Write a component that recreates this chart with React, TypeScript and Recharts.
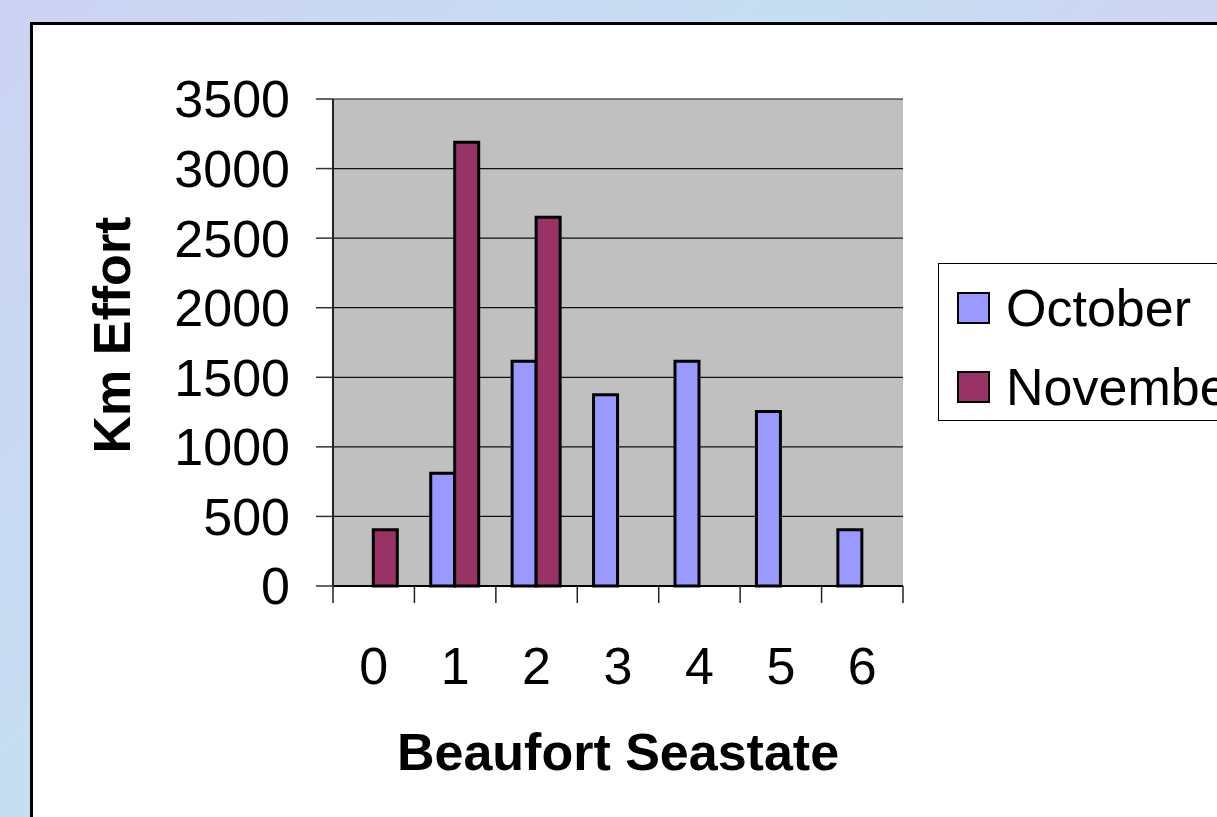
import { BarChart, Bar, XAxis, YAxis, CartesianGrid, Legend } from 'recharts';

const seastates = ['0', '1', '2', '3', '4', '5', '6'];
const october = [null, 810, 1615, 1375, 1615, 1255, 405];
const november = [405, 3190, 2650, null, null, null, null];
const yTicks = [0, 500, 1000, 1500, 2000, 2500, 3000, 3500];
const seriesOrder = ['October', 'November'];

const data = seastates.map((s, i) => ({ state: s, October: october[i], November: november[i] }));

const FONT = '"Liberation Sans", Arial, Helvetica, sans-serif';
const OCT = '#9999FF';
const NOV = '#993366';

function XTick(props: any) {
  const { x, y, payload, index } = props;
  const half = payload.offset ?? 0;
  return (
    <g>
      <line x1={x - half} x2={x - half} y1={y} y2={y + 17} stroke="#222" strokeWidth={1.5} />
      {index === seastates.length - 1 && (
        <line x1={x + half} x2={x + half} y1={y} y2={y + 17} stroke="#222" strokeWidth={1.5} />
      )}
      <text x={x} y={y + 61} dy="0.71em" textAnchor="middle" fontSize={52} fontFamily={FONT} fill="#000">
        {payload.value}
      </text>
    </g>
  );
}

function LegendBox(props: any) {
  const items = [...(props.payload || [])].sort(
    (a: any, b: any) => seriesOrder.indexOf(a.value) - seriesOrder.indexOf(b.value)
  );
  return (
    <div
      style={{
        width: 330,
        height: 158,
        border: '1.5px solid #000',
        background: '#fff',
        boxSizing: 'border-box',
        position: 'relative',
        fontFamily: FONT,
      }}
    >
      {items.map((it: any, i: number) => (
        <div
          key={it.value}
          style={{ position: 'absolute', left: 18, top: 20 + i * 79, height: 48, display: 'flex', alignItems: 'center' }}
        >
          <span
            style={{
              display: 'inline-block',
              width: 33,
              height: 32,
              background: it.color,
              border: '2.5px solid #000',
              boxSizing: 'border-box',
            }}
          />
          <span style={{ marginLeft: 16, fontSize: 52, lineHeight: '48px', color: '#000', whiteSpace: 'nowrap' }}>
            {it.value}
          </span>
        </div>
      ))}
    </div>
  );
}

export default function App() {
  return (
    <div
      style={{
        position: 'fixed',
        left: 0,
        top: 0,
        width: 1217,
        height: 817,
        overflow: 'hidden',
        background: 'linear-gradient(135deg, #cdd3f3 0%, #c6def2 40%, #d4d0f2 70%, #c8dcf3 100%)',
      }}
    >
      <div
        style={{
          position: 'absolute',
          left: 30,
          top: 22,
          width: 1300,
          height: 900,
          background: '#fff',
          border: '3px solid #000',
          boxSizing: 'border-box',
        }}
      />
      <div style={{ position: 'absolute', left: 0, top: 0 }}>
        <BarChart
          width={1217}
          height={817}
          data={data}
          margin={{ top: 99, right: 314, bottom: 0, left: 0 }}
          barCategoryGap="20%"
          barGap={0}
        >
          <CartesianGrid fill="#C0C0C0" vertical={false} stroke="#111" strokeWidth={1.2} />
          <XAxis
            dataKey="state"
            height={231}
            tickLine={false}
            tickSize={0}
            tickMargin={0}
            axisLine={{ stroke: '#000', strokeWidth: 2 }}
            tick={<XTick />}
            interval={0}
            label={{
              content: () => (
                <text x={618} y={770} textAnchor="middle" fontSize={52} fontWeight="bold" fontFamily={FONT} fill="#000">
                  Beaufort Seastate
                </text>
              ),
            }}
          />
          <YAxis
            width={333}
            domain={[0, 3500]}
            ticks={yTicks}
            interval={0}
            tickSize={17}
            tickMargin={26}
            tickLine={{ stroke: '#333', strokeWidth: 1.5 }}
            axisLine={{ stroke: '#222', strokeWidth: 2 }}
            tick={{ fontSize: 52, fontFamily: FONT, fill: '#000' }}
            label={{
              content: () => (
                <text
                  x={130}
                  y={335}
                  transform="rotate(-90 130 335)"
                  textAnchor="middle"
                  fontSize={52}
                  fontWeight="bold"
                  fontFamily={FONT}
                  fill="#000"
                >
                  Km Effort
                </text>
              ),
            }}
          />
          <YAxis
            yAxisId="edge"
            orientation="right"
            width={0}
            domain={[0, 3500]}
            tick={false}
            tickLine={false}
            axisLine={{ stroke: '#808080', strokeWidth: 2 }}
          />
          <Legend
            layout="vertical"
            align="center"
            verticalAlign="middle"
            wrapperStyle={{ left: 938, top: 263, width: 330, height: 158 }}
            content={<LegendBox />}
          />
          <Bar dataKey="October" fill={OCT} stroke="#000" strokeWidth={3} isAnimationActive={false} />
          <Bar dataKey="November" fill={NOV} stroke="#000" strokeWidth={3} isAnimationActive={false} />
        </BarChart>
      </div>
    </div>
  );
}
